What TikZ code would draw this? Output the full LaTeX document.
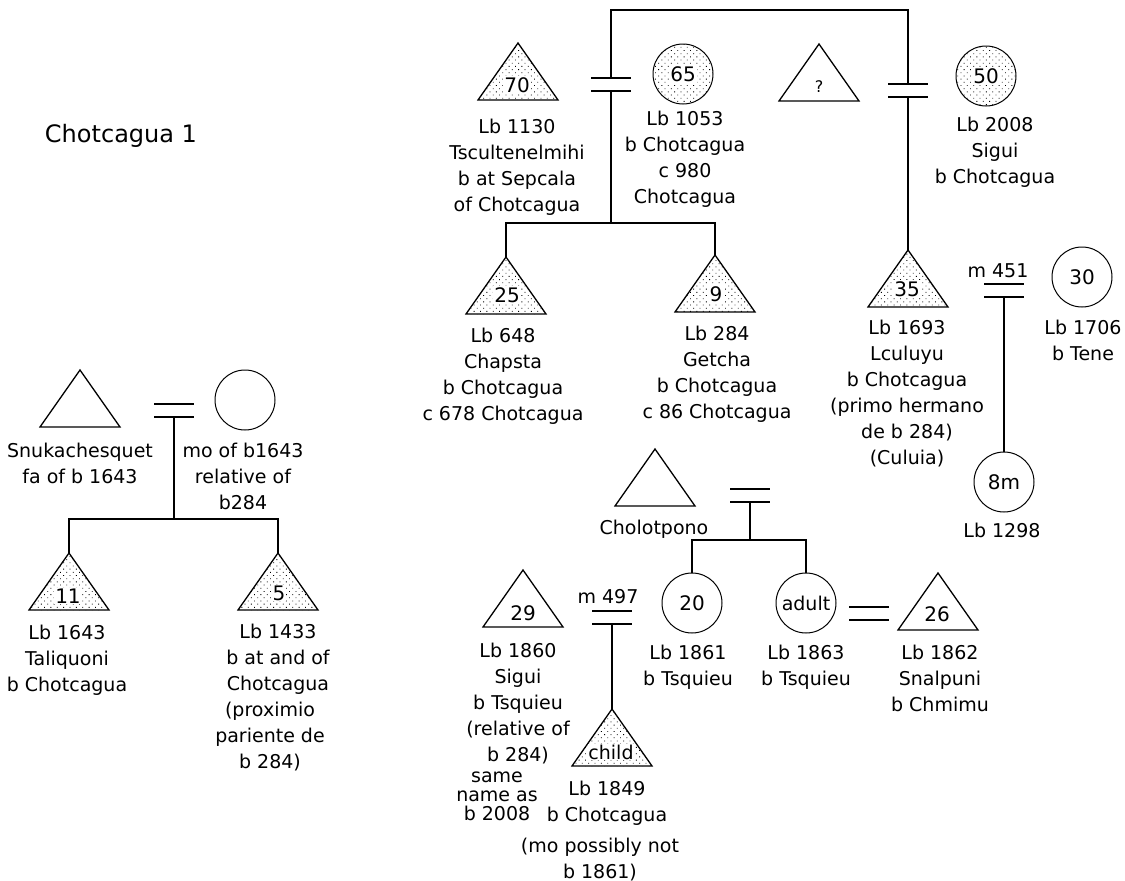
\documentclass[tikz,border=0pt]{standalone}
\usepackage{fontspec}
\setmainfont{DejaVu Sans}
\usetikzlibrary{patterns.meta}
\newcommand\kTri[4]{%
  \coordinate (#1) at (#2,#3);
  \draw[ln,#4] (#1) -- ++(-40,57) -- ++(80,0) -- cycle;}
\newcommand\kMar[3]{%
  \coordinate (#1) at (#2,#3);
  \coordinate (#1b) at (#2,#3+13);
  \draw[ln] (#2-20,#3) -- (#2+20,#3) (#2-20,#3+13) -- (#2+20,#3+13);}
\begin{document}
\begin{tikzpicture}[x=1pt,y=-1pt,
  ln/.style={line width=1.3pt},
  dotfill/.style={pattern={Dots[distance=4.5pt,angle=45,radius=0.6pt]},pattern color=black},
  lbl/.style={font=\fontsize{19}{26}\selectfont, align=center, inner sep=0pt, anchor=north},
  num/.style={font=\fontsize{20}{22}\selectfont, inner sep=1pt},
  numw/.style={num, fill=white},
  circ/.style={circle, draw, line width=1pt, minimum size=60pt, inner sep=0pt},
]
\useasboundingbox (0,0) rectangle (1125,881);

% title
\node[font=\fontsize{24}{28}\selectfont, anchor=base, inner sep=0pt] (title) at (121,142) {Chotcagua 1};

% ---------- top family ----------
\kTri{t70}{518}{43}{dotfill}
\node[numw] (n70) at (517,85) {70};
\node[lbl] (l1130) at (517,119) {Lb 1130\\Tscultenelmihi\\b at Sepcala\\of Chotcagua};

\node[circ, dotfill] (c65) at (683,74) {};
\node[numw] (n65) at (c65) {65};
\node[lbl] (l1053) at (685,111) {Lb 1053\\b Chotcagua\\c 980\\Chotcagua};

\kTri{tq}{819}{44}{}
\node[font=\fontsize{16}{18}\selectfont, inner sep=0pt] (nq) at (819,87) {?};

\node[circ, dotfill] (c50) at (986,76) {};
\node[numw] (n50) at (c50) {50};
\node[lbl] (l2008) at (995,117) {Lb 2008\\Sigui\\b Chotcagua};

\coordinate (topL) at (611,10);
\coordinate (topR) at (908,10);
\kMar{m1}{611}{78}
\kMar{m2}{908}{84}
\draw[ln] (m1) -- (topL) -- (topR) -- (m2);

\coordinate (sib1) at (611,223);
\kTri{t25}{506}{257}{dotfill}
\node[numw] (n25) at (507,295) {25};
\node[lbl] (l648) at (503,328) {Lb 648\\Chapsta\\b Chotcagua\\c 678 Chotcagua};

\kTri{t9}{715}{255}{dotfill}
\node[numw] (n9) at (716,294) {9};
\node[lbl] (l284) at (717,326) {Lb 284\\Getcha\\b Chotcagua\\c 86 Chotcagua};

\draw[ln] (m1b) -- (sib1);
\draw[ln] (t25) |- (sib1) -| (t9);

\kTri{t35}{908}{250}{dotfill}
\node[numw] (n35) at (907,289) {35};
\node[lbl] (l1693) at (907,320) {Lb 1693\\Lculuyu\\b Chotcagua\\(primo hermano\\de b 284)\\(Culuia)};
\draw[ln] (m2b) -- (t35);

% m 451
\node[lbl, anchor=center] (m451) at (998,271) {m 451};
\kMar{m3}{1004}{284}
\node[circ] (c30) at (1082,277) {};
\node[num] (n30) at (c30) {30};
\node[lbl] (l1706) at (1083,320) {Lb 1706\\b Tene};

\node[circ] (c8m) at (1004,482) {};
\node[num] (n8m) at (c8m) {8m};
\node[lbl] (l1298) at (1002,523) {Lb 1298};
\draw[ln] (m3b) -- (c8m.north);

% ---------- Cholotpono family ----------
\kTri{tcho}{655}{449}{}
\node[lbl] (lcho) at (654,520) {Cholotpono};
\kMar{m4}{750}{489}
\coordinate (sib2) at (750,540);
\node[circ] (c20) at (692,603) {};
\node[num] (n20) at (c20) {20};
\node[circ] (cad) at (806,603) {};
\node[lbl, anchor=center] (nad) at (cad) {adult};
\draw[ln] (m4b) -- (sib2);
\draw[ln] (c20.north) |- (sib2) -| (cad.north);
\node[lbl] (l1861) at (688,645) {Lb 1861\\b Tsquieu};
\node[lbl] (l1863) at (806,645) {Lb 1863\\b Tsquieu};

\kMar{m5}{869}{607}
\kTri{t26}{938}{573}{}
\node[num] (n26) at (937,614) {26};
\node[lbl] (l1862) at (940,645) {Lb 1862\\Snalpuni\\b Chmimu};

% ---------- Sigui family ----------
\kTri{t29}{523}{570}{}
\node[num] (n29) at (523,613) {29};
\node[lbl] (l1860) at (518,643) {Lb 1860\\Sigui\\b Tsquieu\\(relative of\\b 284)};
\node[lbl, font=\fontsize{19}{19}\selectfont] (lsame) at (497,772) {same\\name as\\b 2008};

\node[lbl, anchor=center] (m497) at (608,597) {m 497};
\kMar{m6}{612}{611}
\kTri{tch}{612}{709}{dotfill}
\node[lbl, anchor=center, fill=white, inner sep=0.5pt] (nch) at (611,752) {child};
\draw[ln] (m6b) -- (tch);
\node[lbl] (l1849) at (607,781) {Lb 1849\\b Chotcagua};
\node[lbl] (lmo) at (600,838) {(mo possibly not\\b 1861)};

% ---------- left family ----------
\kTri{tsnu}{80}{370}{}
\node[lbl] (lsnu) at (80,443) {Snukachesquet\\fa of b 1643};
\kMar{m7}{174}{404}
\node[circ] (cmo) at (245,400) {};
\node[lbl] (lmo1643) at (243,443) {mo of b1643\\relative of\\b284};
\coordinate (sib3) at (174,519);
\kTri{t11}{69}{553}{dotfill}
\node[numw] (n11) at (68,596) {11};
\kTri{t5}{278}{553}{dotfill}
\node[numw] (n5) at (279,593) {5};
\draw[ln] (m7b) -- (sib3);
\draw[ln] (t11) |- (sib3) -| (t5);
\node[lbl] (l1643) at (67,625) {Lb 1643\\Taliquoni\\b Chotcagua};
\node[lbl] (l1433) at (278,624) {Lb 1433\\b at and of\\Chotcagua};
\node[lbl] (lprox) at (270,702) {(proximio\\pariente de\\b 284)};
\end{tikzpicture}
\end{document}
